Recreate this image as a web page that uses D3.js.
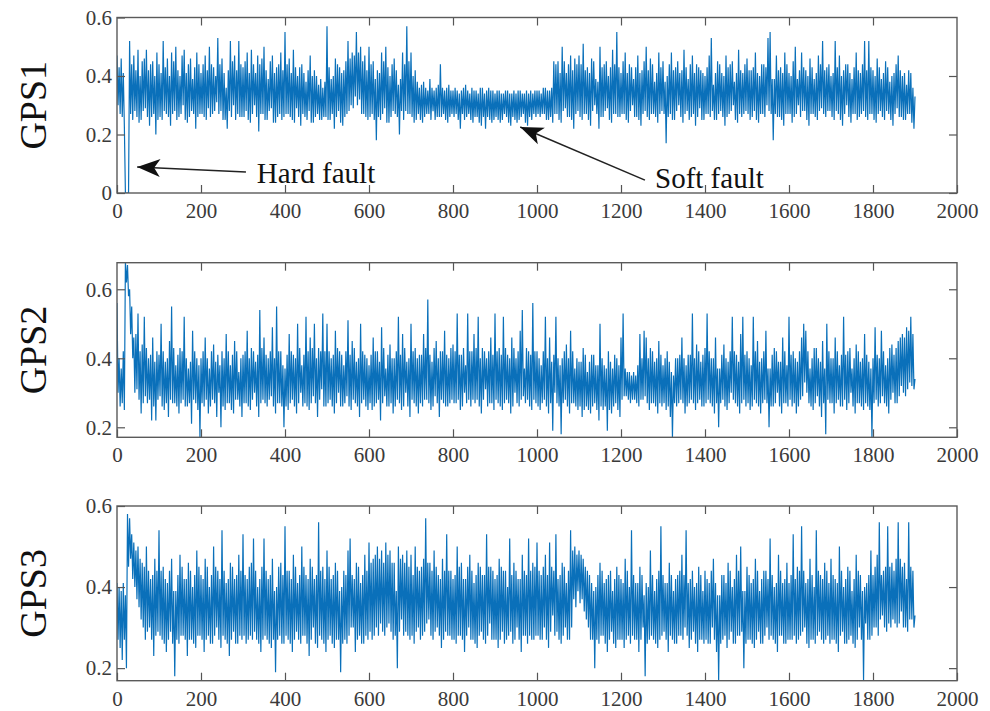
<!DOCTYPE html>
<html lang="en">
<head>
<meta charset="UTF-8">
<title>GPS faults</title>
<script src="https://d3js.org/d3.v7.min.js"></script>
<style>
    body { margin: 0; background: #fff; }
    svg { display: block; }
    .tick text { font-family: "Liberation Serif", "Times New Roman", serif; font-size: 21px; fill: #3a3a3a; }
    .tick line { stroke: #555; stroke-width: 1.2; }
    .domain { display: none; }
</style>
</head>
<body>
<svg id="chart" width="990" height="711"></svg>
<script>
    // every 5 samples, in hundredths: local peak at s, local trough at s + 2.5
    // one row = 100 samples, last peak is sample 1900
    const sampleStep = 5;

    const gps1Peaks = [].concat(
        [47,43,46,41,0,0,52,44,47,42,49,40,45,46,49,42,44,45,40,48],
        [44,41,52,43,46,40,48,45,50,42,40,47,49,41,44,46,39,43,48,44],
        [41,44,47,42,50,44,43,40,53,44,46,41,36,42,52,45,47,42,52,44],
        [43,45,48,41,49,44,41,47,44,46,50,42,39,45,47,41,43,44,48,42],
        [55,44,46,41,49,43,40,43,44,41,38,42,47,40,42,40,37,39,36,38],
        [57,43,39,40,46,44,43,41,42,45,52,46,48,47,55,48,50,45,47,42],
        [50,44,45,39,42,41,48,45,50,43,40,44,46,42,37,39,48,44,57,45],
        [48,40,42,38,36,37,38,36,35,39,36,35,36,37,44,36,35,36,37,35],
        [35,36,35,34,35,36,37,35,34,36,35,35,34,36,36,34,35,36,35,35],
        [34,35,35,34,34,35,35,34,34,35,34,35,35,34,34,35,34,35,34,35],
        [35,35,34,36,36,35,35,36,45,44,45,41,50,45,41,44,47,42,46,44],
        [47,44,51,42,43,41,46,45,39,38,50,43,44,45,40,43,49,44,55,43],
        [41,45,48,41,44,43,39,43,47,41,42,45,50,42,46,44,38,41,48,43],
        [45,38,40,44,48,42,43,45,41,42,49,43,39,44,47,41,44,43,42,41],
        [40,43,47,53,37,41,45,44,41,40,47,43,44,45,38,41,49,42,41,44],
        [46,42,42,43,48,41,40,44,44,43,53,55,39,39,47,42,43,41,48,44],
        [41,40,45,50,39,42,48,43,42,40,46,43,39,41,47,44,52,42,43,44],
        [40,41,52,43,47,40,42,44,44,41,39,43,48,42,41,44,52,42,52,43],
        [42,40,46,43,39,41,45,43,38,40,41,44,47,42,40,41,37,42,41,36],
        [33]
    );
    const gps1Troughs = [].concat(
        [30,27,26,23,0,0,27,25,28,26,24,25,28,29,26,23,26,27,20,25],
        [26,25,28,27,26,23,27,28,25,26,27,30,25,24,26,28,27,22,26,27],
        [27,26,25,29,26,27,28,31,27,28,25,25,22,28,26,30,25,27,26,26],
        [26,28,25,24,27,30,26,21,27,27,25,25,28,29,24,24,26,27,25,26],
        [27,27,26,25,24,29,26,23,27,26,25,28,24,24,26,27,25,25,26,26],
        [25,25,27,22,26,28,24,23,26,27,28,30,29,33,30,32,27,27,26,25],
        [26,27,25,18,26,25,27,29,24,24,26,28,27,26,20,28,25,28,27,27],
        [26,24,25,27,25,24,26,27,27,25,28,25,26,26,26,27,25,24,26,27],
        [26,27,25,22,27,25,26,27,25,24,26,26,24,23,26,22,26,25,24,25],
        [26,25,24,25,27,26,24,23,26,25,24,25,26,27,24,23,26,25,27,26],
        [27,26,27,27,25,25,26,24,27,27,25,24,28,29,26,26,25,22,27,28],
        [26,25,27,27,25,23,28,30,27,22,26,26,28,29,25,24,27,27,26,26],
        [27,27,25,24,28,30,26,26,25,23,27,28,26,25,27,27,26,24,27,28],
        [27,17,26,27,25,25,28,30,26,24,27,28,25,26,27,23,26,29,25,25],
        [27,27,26,28,25,25,27,28,26,23,26,27,28,30,25,24,27,26,27,28],
        [27,25,26,28,25,24,27,27,26,30,28,27,18,27,26,26,25,23,27,27],
        [27,24,26,27,30,26,28,28,25,23,27,27,26,25,28,29,27,26,28,28],
        [26,25,28,27,25,23,27,30,26,24,27,27,25,26,27,28,26,25,27,27],
        [25,24,27,28,26,25,28,27,25,23,27,29,26,26,25,25,27,27,24,22]
    );

    const gps2Peaks = [].concat(
        [56,40,37,42,68,67,60,55,46,47,53,42,44,52,43,40,41,46,39,42],
        [41,50,42,39,40,45,55,43,38,41,43,42,52,40,37,39,48,42,40,38],
        [40,42,46,40,37,42,44,39,41,38,42,40,47,42,38,41,45,42,36,40],
        [41,42,48,40,43,42,39,41,54,43,46,41,40,42,49,40,55,42,42,38],
        [37,41,47,42,41,40,50,43,38,41,52,42,46,43,50,40,43,42,53,42],
        [50,42,40,41,48,43,42,41,38,42,51,41,45,43,39,40,50,42,41,40],
        [38,41,46,42,42,39,49,43,37,41,44,40,40,42,52,41,47,43,39,40],
        [50,42,43,40,41,41,47,43,57,41,39,43,45,40,42,42,48,41,40,43],
        [44,42,53,41,41,43,38,53,42,42,47,43,52,40,43,42,40,42,46,41],
        [53,42,43,41,52,43,41,40,46,43,40,42,48,54,37,43,42,41,56,42],
        [42,40,38,42,52,40,46,39,41,52,40,38,40,42,44,40,48,42,37,40],
        [39,39,43,41,36,39,41,41,38,38,50,40,38,37,42,39,37,41,40,38],
        [46,53,37,36,36,35,36,35,38,47,40,48,46,40,43,42,39,40,45,41],
        [38,40,42,39,36,35,40,40,41,46,40,38,41,41,53,40,44,42,39,41],
        [43,53,42,40,40,46,37,37,41,44,40,39,42,52,42,41,39,47,52,41],
        [42,40,38,52,42,45,39,40,42,48,37,37,41,43,42,39,39,46,42,38],
        [52,41,42,40,39,42,46,50,48,42,37,40,43,43,40,39,45,37,50,42],
        [40,40,46,42,38,41,52,41,42,43,37,40,44,42,39,40,47,41,39,37],
        [40,49,41,40,48,42,38,40,43,44,41,43,45,46,47,46,49,48,52,47],
        [34]
    );
    const gps2Troughs = [].concat(
        [30,26,27,25,62,58,47,40,30,31,28,24,27,29,27,28,22,26,22,28],
        [29,26,25,27,23,28,27,27,26,24,27,28,26,26,27,21,28,27,25,17],
        [27,26,28,24,26,28,27,23,30,20,26,25,27,27,25,24,28,28,26,23],
        [27,27,26,25,28,30,26,23,27,28,27,26,28,29,26,24,27,27,26,20],
        [26,25,27,28,26,24,27,30,26,27,26,25,27,29,27,23,28,31,26,26],
        [27,28,26,24,27,30,26,26,27,29,26,25,28,27,26,23,27,28,26,25],
        [27,25,26,27,28,22,27,29,26,26,27,24,26,28,27,25,26,30,26,23],
        [28,27,26,24,27,26,28,28,27,25,26,29,27,23,28,27,26,26,27,28],
        [27,27,28,25,26,30,27,28,26,28,27,28,26,24,28,31,26,27,27,25],
        [28,27,26,25,27,28,27,24,26,30,27,26,28,29,27,28,26,25,28,27],
        [26,25,27,28,26,24,27,19,30,27,26,18,27,28,26,24,27,27,26,25],
        [26,23,25,26,25,24,26,27,25,22,26,25,26,19,25,24,26,27,25,23],
        [28,29,29,28,27,28,28,27,26,28,28,29,27,25,27,27,26,24,27,26],
        [27,25,26,23,17,27,26,27,28,27,24,26,27,28,27,25,27,28,26,26],
        [27,28,27,26,24,27,20,27,28,26,25,27,30,28,27,26,24,27,28,26],
        [27,25,26,28,27,26,24,27,28,27,20,26,26,27,30,26,24,27,27,26],
        [28,26,27,24,26,28,29,33,30,27,26,25,27,29,26,23,27,18,28,27],
        [27,24,27,28,26,26,28,25,27,30,26,24,27,27,26,25,27,26,25,17],
        [27,28,26,27,29,27,26,24,28,30,27,27,29,32,30,29,31,33,32,31]
    );

    const gps3Peaks = [].concat(
        [41,40,39,41,38,58,57,53,51,49,50,47,46,45,50,44,42,43,47,44],
        [54,44,45,42,41,44,47,39,39,43,48,45,42,42,46,44,40,43,49,45],
        [43,42,47,45,40,43,50,45,44,42,54,44,41,42,46,45,42,43,48,44],
        [53,43,42,45,46,52,44,40,42,45,52,44,42,43,47,39,40,45,46,43],
        [55,44,44,42,48,45,41,43,50,45,43,42,47,45,42,43,56,44,45,42],
        [49,45,42,43,46,44,39,40,44,43,49,52,43,42,46,45,41,43,48,44],
        [51,46,47,48,50,47,49,46,51,48,49,46,46,39,50,47,48,46,49,45],
        [48,43,50,45,44,45,47,57,46,46,44,49,45,43,42,47,44,53,44,44],
        [42,43,50,45,46,42,42,45,48,44,41,43,46,45,43,43,53,45,45,44],
        [42,43,47,45,44,44,40,52,43,46,44,42,42,48,44,43,52,44,46,45],
        [51,44,43,45,48,43,51,45,44,53,42,43,46,45,41,44,54,49,50,48],
        [49,48,47,45,44,43,41,39,40,43,46,44,41,42,43,44,39,42,45,43],
        [42,41,47,44,40,54,43,41,41,45,43,38,41,40,49,43,39,42,44,55],
        [43,41,41,46,43,39,42,43,44,48,43,54,41,42,44,40,41,45,43,39],
        [44,42,41,44,47,41,38,38,43,43,41,46,44,40,42,48,44,50,39,39],
        [45,43,41,42,47,44,39,42,44,44,42,52,43,40,41,48,44,41,42,46],
        [41,43,53,42,45,44,55,44,41,42,47,43,40,54,44,43,42,46,44,41],
        [47,43,42,41,50,44,40,42,45,44,39,42,48,44,43,39,40,41,43,49],
        [43,45,48,56,43,44,45,55,45,46,44,47,56,47,45,46,42,56,45,44],
        [33]
    );
    const gps3Troughs = [].concat(
        [27,25,22,27,20,45,47,42,40,37,35,32,30,27,29,30,27,23,28,29],
        [28,27,26,24,27,29,26,18,27,26,28,28,27,23,27,27,26,25,28,28],
        [27,24,27,28,26,26,28,30,27,25,28,27,26,23,27,29,26,26,28,27],
        [28,26,27,28,27,29,27,26,24,27,28,27,26,25,27,19,27,28,26,26],
        [28,27,26,24,27,29,27,26,28,28,26,23,27,30,26,25,28,27,26,24],
        [27,28,26,25,27,27,19,26,27,26,28,30,30,24,27,28,26,26,28,27],
        [29,27,28,30,28,31,29,28,30,31,29,27,28,20,29,32,28,29,28,27],
        [28,26,29,30,27,28,29,31,32,28,27,29,30,28,25,27,29,28,28,27],
        [27,26,28,28,27,24,28,30,27,27,26,25,28,29,27,26,28,31,27,27],
        [27,25,27,29,26,27,28,29,26,27,30,27,24,28,28,26,28,27,27,28],
        [28,27,27,30,27,25,29,33,28,29,27,26,28,30,27,27,30,37,35,39],
        [36,37,34,32,30,27,27,20,27,26,28,28,26,24,27,29,26,25,27,27],
        [27,25,27,28,26,28,27,27,24,27,30,18,26,27,28,27,26,25,27,28],
        [29,27,24,28,27,26,26,28,28,27,30,28,25,27,29,26,24,27,27,26],
        [27,26,26,30,27,24,17,26,27,28,25,27,29,26,26,28,28,29,20,26],
        [27,27,26,25,27,29,26,26,28,30,27,28,27,26,24,28,28,26,26,27],
        [27,27,28,26,27,28,29,30,26,25,27,27,26,28,29,27,26,27,28,26],
        [27,27,26,24,28,29,26,26,27,28,26,25,27,30,27,17,31,27,27,28],
        [30,30,28,32,33,30,29,31,30,32,31,30,31,34,30,30,29,32,32,30]
    );

    const seriesNames = ["GPS1", "GPS2", "GPS3"];
    const xTicks = [0, 200, 400, 600, 800, 1000, 1200, 1400, 1600, 1800, 2000];
    const yDomains = [[0, 0.6], [0.171, 0.677], [0.169, 0.6]];
    const yTicks = [[0, 0.2, 0.4, 0.6], [0.2, 0.4, 0.6], [0.2, 0.4, 0.6]];

    // annotations on GPS1, in data units
    const notes = [
        { text: "Hard fault", tip: [48, 0.089], tail: [307, 0.072], at: [333, 0.034] },
        { text: "Soft fault", tip: [960, 0.226], tail: [1257, 0.044], at: [1281, 0.017] }
    ];

    const panels = [
        { top: 17.5, bottom: 193 },
        { top: 262.7, bottom: 437.3 },
        { top: 506, bottom: 680.7 }
    ];
    const left = 117, right = 957;
    const lineColor = "#0a70ba";

    const svg = d3.select("#chart");
    svg.append("rect").attr("width", 990).attr("height", 711).attr("fill", "#fff");

    const x = d3.scaleLinear().domain([0, 2000]).range([left, right]);
    const allPeaks = [gps1Peaks, gps2Peaks, gps3Peaks];
    const allTroughs = [gps1Troughs, gps2Troughs, gps3Troughs];

    // peak, trough, peak, trough ... as one trace
    function trace(peaks, troughs) {
        const out = [];
        peaks.forEach((v, i) => {
            out.push({ s: i * sampleStep, v: v / 100 });
            if (i < troughs.length) out.push({ s: i * sampleStep + sampleStep / 2, v: troughs[i] / 100 });
        });
        return out;
    }

    panels.forEach((p, k) => {
        const y = d3.scaleLinear().domain(yDomains[k]).range([p.bottom, p.top]);
        const values = trace(allPeaks[k], allTroughs[k]);

        svg.append("clipPath").attr("id", "clip" + k)
            .append("rect")
            .attr("x", left).attr("y", p.top)
            .attr("width", right - left).attr("height", p.bottom - p.top);

        const line = d3.line().x(d => x(d.s)).y(d => y(d.v));
        svg.append("path")
            .datum(values)
            .attr("clip-path", `url(#clip${k})`)
            .attr("fill", "none")
            .attr("stroke", lineColor)
            .attr("stroke-width", 1.2)
            .attr("stroke-linejoin", "bevel")
            .attr("d", line);

        // inward ticks on all four sides, labels only left/bottom
        svg.append("g")
            .attr("transform", `translate(0,${p.bottom})`)
            .call(d3.axisBottom(x).tickValues(xTicks).tickSize(-8).tickPadding(10).tickFormat(d3.format("d")));
        svg.append("g")
            .attr("transform", `translate(0,${p.top})`)
            .call(d3.axisTop(x).tickValues(xTicks.slice(1, -1)).tickSize(-8).tickFormat(""));
        svg.append("g")
            .attr("transform", `translate(${left},0)`)
            .call(d3.axisLeft(y).tickValues(yTicks[k]).tickSize(-8).tickPadding(5).tickFormat(d => String(d)));
        svg.append("g")
            .attr("transform", `translate(${right},0)`)
            .call(d3.axisRight(y).tickValues(yTicks[k].filter(t => y(t) > p.top + 1)).tickSize(-8).tickFormat(""));

        svg.append("rect")
            .attr("x", left).attr("y", p.top)
            .attr("width", right - left).attr("height", p.bottom - p.top)
            .attr("fill", "none")
            .attr("stroke", "#5a5a5a")
            .attr("stroke-width", 1.4);

        svg.append("text")
            .attr("transform", `translate(46,${(p.top + p.bottom) / 2}) rotate(-90)`)
            .attr("text-anchor", "middle")
            .style("font-family", "'Liberation Serif', 'Times New Roman', serif")
            .style("font-size", "38px")
            .attr("fill", "#111")
            .text(seriesNames[k]);

        if (k === 0) {
            notes.forEach(n => {
                const x1 = x(n.tail[0]), y1 = y(n.tail[1]);
                const x2 = x(n.tip[0]), y2 = y(n.tip[1]);
                const ang = Math.atan2(y2 - y1, x2 - x1) * 180 / Math.PI;
                svg.append("line")
                    .attr("x1", x1).attr("y1", y1)
                    .attr("x2", x2).attr("y2", y2)
                    .attr("stroke", "#222")
                    .attr("stroke-width", 1.6);
                svg.append("path")
                    .attr("d", "M0,0L-23,-9L-17,0L-23,9Z")
                    .attr("transform", `translate(${x2},${y2}) rotate(${ang})`)
                    .attr("fill", "#111");
                svg.append("text")
                    .attr("x", x(n.at[0]))
                    .attr("y", y(n.at[1]))
                    .style("font-family", "'Liberation Serif', 'Times New Roman', serif")
                    .style("font-size", "29px")
                    .attr("fill", "#111")
                    .text(n.text);
            });
        }
    });
</script>
</body>
</html>
